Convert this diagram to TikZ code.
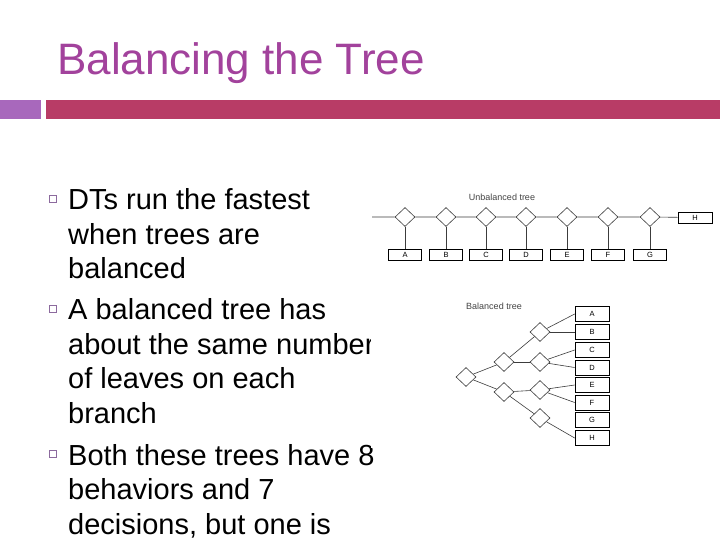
\documentclass[tikz,border=0pt]{standalone}
\usepackage{fontspec}
\setmainfont{Liberation Sans}
\usepackage{tikz}
\usetikzlibrary{shapes.geometric}
\definecolor{titlepink}{HTML}{A2429C}
\definecolor{barlilac}{HTML}{A868BC}
\definecolor{barrose}{HTML}{B83C66}
\definecolor{bulletlilac}{HTML}{8C6A9E}
\definecolor{treeline}{HTML}{3C3C3C}
\definecolor{treegray}{HTML}{444444}
\tikzset{
  bodytext/.style={
    anchor=north west, inner sep=0pt, align=left,
    font=\fontsize{29}{34.6}\selectfont
  },
  bulletbox/.style={
    draw=bulletlilac, line width=0.8pt, minimum size=7pt, inner sep=0pt
  },
  decision/.style={
    diamond, draw=treeline, fill=white, line width=0.6pt,
    minimum width=20pt, minimum height=19pt, inner sep=0pt
  },
  leafbox/.style={
    draw=black, fill=white, line width=0.7pt, minimum width=33pt,
    minimum height=11pt, inner sep=0pt, font=\fontsize{7.5}{9}\selectfont
  },
  treelabel/.style={inner sep=0pt, font=\fontsize{9}{10}\selectfont, text=treegray},
  branch/.style={draw=treeline, line width=0.6pt}
}

\begin{document}
\begin{tikzpicture}[x=1pt,y=-1pt]
\useasboundingbox (0,0) rectangle (720,540);
\node[anchor=base west, inner sep=0pt, text=titlepink,
      font=\fontsize{44}{52}\selectfont] (title) at (57,75) {Balancing the Tree};
\fill[barlilac] (0,100) rectangle (41,119);
\fill[barrose] (46,100) rectangle (720,119);

% bullet list
\node[bulletbox] (dot1) at (53,198.5) {};
\node[bulletbox] (dot2) at (53,308.5) {};
\node[bulletbox] (dot3) at (53,454) {};
\node[bodytext] (para1) at (68,185.1) {\strut DTs run the fastest\\ when trees are\\ balanced};
\node[bodytext] (para2) at (68,295.1) {\strut A balanced tree has\\ about the same number\\ of leaves on each\\ branch};
\node[bodytext] (para3) at (68,440.8) {\strut Both these trees have 8\\ behaviors and 7\\ decisions, but one is};

% the figure sits on white
\fill[white] (371,180) rectangle (720,448);

% unbalanced tree
\node[treelabel] (ulabel) at (502,197) {Unbalanced tree};
\coordinate (ustart) at (372,217);
\foreach \n/\x/\t in {1/405/A,2/446/B,3/486/C,4/526/D,5/567/E,6/608/F,7/650/G} {
  \node[decision] (u\n) at (\x,217) {};
  \node[leafbox] (u\t) at (\x,255) {\t};
}
\node[leafbox, minimum width=34pt] (uH) at (695,217.5) {H};
\draw[branch] (ustart) -- (u1) -- (u2) -- (u3) -- (u4) -- (u5) -- (u6) -- (u7) -- (uH);
\foreach \n/\t in {1/A,2/B,3/C,4/D,5/E,6/F,7/G}
  \draw[branch] (u\n) -- (u\t);

% balanced tree
\node[treelabel] (blabel) at (494,306) {Balanced tree};
\node[decision] (b0) at (466,377) {};
\node[decision] (b1) at (504,362) {};
\node[decision] (b2) at (504,392) {};
\node[decision] (b3) at (540,332) {};
\node[decision] (b4) at (540,362) {};
\node[decision] (b5) at (540,390) {};
\node[decision] (b6) at (540,418) {};
\foreach \t/\y in {A/314,B/332,C/350,D/367.5,E/385,F/402.5,G/420,H/438}
  \node[leafbox, minimum width=34pt, minimum height=15pt] (b\t) at (592,\y) {\t};
\draw[branch] (b0) -- (b1);
\draw[branch] (b0) -- (b2);
\draw[branch] (b1) -- (b3);
\draw[branch] (b1) -- (b4);
\draw[branch] (b2) -- (b5);
\draw[branch] (b2) -- (b6);
\draw[branch] (b3) -- (bA.west);
\draw[branch] (b3) -- (bB.west);
\draw[branch] (b4) -- (bC.west);
\draw[branch] (b4) -- (bD.west);
\draw[branch] (b5) -- (bE.west);
\draw[branch] (b5) -- (bF.west);
\draw[branch] (b6) -- (bH.west);
\end{tikzpicture}
\end{document}
